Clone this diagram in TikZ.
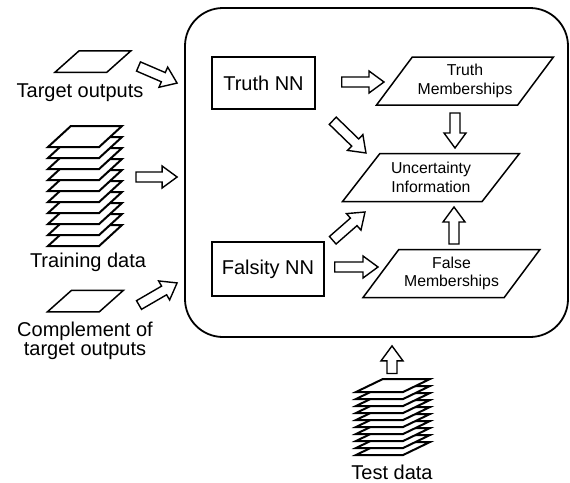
\documentclass[tikz,border=0pt]{standalone}
\usepackage{fontspec}
\setmainfont{Liberation Sans}
\usetikzlibrary{shapes.geometric,calc,positioning}

% hollow block arrow between two points
\newcommand{\fatarrow}[2]{%
  \path let \p1=#1, \p2=#2,
            \n1={atan2(\y2-\y1,\x2-\x1)}, \n2={veclen(\x2-\x1,\y2-\y1)} in
    \pgfextra{\xdef\fatang{\n1}\xdef\fatlen{\n2}};
  \draw[fat arrow,shift={#1},rotate=\fatang]
    (0,5) -- ({\fatlen-15},5) -- ({\fatlen-15},11) -- (\fatlen,0)
    -- ({\fatlen-15},-11) -- ({\fatlen-15},-5) -- (0,-5) -- cycle;}

\begin{document}
\begin{tikzpicture}[x=1pt,y=-1pt,
    every node/.style={inner sep=0pt},
    big text/.style={font=\fontsize{20}{18.5}\selectfont,align=center},
    nn box/.style={draw,line width=1.5pt,big text},
    data shape/.style={trapezium,trapezium stretches=true,draw,fill=white,line width=1.5pt,inner sep=1pt},
    mem shape/.style={data shape,trapezium left angle=47,trapezium right angle=133,
                      minimum width=177pt,minimum height=48pt,
                      font=\fontsize{15.8}{18.5}\selectfont,align=center},
    target sheet/.style={data shape,trapezium left angle=49,trapezium right angle=131,
                         minimum width=76pt,minimum height=21.5pt},
    train sheet/.style={data shape,line width=2pt,trapezium left angle=51,trapezium right angle=129,
                        minimum width=74pt,minimum height=21pt},
    test sheet/.style={data shape,line width=2pt,trapezium left angle=37,trapezium right angle=143,
                       minimum width=74pt,minimum height=13pt},
    fat arrow/.style={draw,fill=white,line width=1.4pt,line join=miter}]
  \useasboundingbox (0,0) rectangle (570,482);

  % system frame
  \node[draw,rounded corners=38pt,line width=1.8pt,minimum width=383pt,minimum height=329pt]
    (sys) at (376.5,172.5) {};

  % inputs
  \node[target sheet] (tgt) at (93,61.5) {};
  \node[big text,anchor=base] (tgtlbl) at (80,97.5) {Target outputs};
  \foreach \i in {9,8,...,0}
    \node[train sheet] (tr\i) at (85,{136.5+11*\i}) {};
  \node[big text,anchor=base] (trlbl) at (88,267) {Training data};
  \node[target sheet] (cmp) at (85.5,301) {};
  \node[big text,anchor=north] (cmplbl) at (85,322) {Complement of\\target outputs};

  % networks and outputs
  \node[nn box,minimum width=103pt,minimum height=52pt] (tnn) at (263.5,83) {Truth NN};
  \node[nn box,minimum width=112pt,minimum height=54pt] (fnn) at (268,269) {Falsity NN};
  \node[mem shape] (tmem) at (465,81) {Truth\\Memberships};
  \node[mem shape] (unc) at (431,177.5) {Uncertainty\\Information};
  \node[mem shape] (fmem) at (451.5,273.5) {False\\Memberships};

  % test data
  \foreach \i in {9,8,...,0}
    \node[test sheet] (ts\i) at (393,{385.5+7*\i}) {};
  \node[big text,anchor=base] (tslbl) at (392,479) {Test data};

  % block arrows
  \fatarrow{($(tgt.center)+(45.5,5)$)}{($(sys.north west)+(-7,76)$)}
  \fatarrow{($(tr4.center)+(51,-3.5)$)}{($(sys.west)+(-7,4.5)$)}
  \fatarrow{($(cmp.center)+(53.5,4)$)}{($(sys.south west)+(-7,-55)$)}
  \fatarrow{($(tnn.east)+(26,-1)$)}{($(tmem.center)+(-81,1)$)}
  \fatarrow{($(tmem.center)+(-10,32)$)}{($(unc.center)+(24,-29.5)$)}
  \fatarrow{($(tnn.south east)+(17,11)$)}{($(unc.center)+(-65,-24.5)$)}
  \fatarrow{($(fnn.north east)+(8,-1)$)}{($(unc.center)+(-66,34.5)$)}
  \fatarrow{($(fnn.east)+(10,-2)$)}{($(fmem.center)+(-73.5,-6.5)$)}
  \fatarrow{($(fmem.center)+(2.5,-29.5)$)}{($(unc.center)+(23,29.5)$)}
  \fatarrow{($(ts0.center)+(-1,-12)$)}{($(sys.south)+(15.5,8)$)}
\end{tikzpicture}
\end{document}
